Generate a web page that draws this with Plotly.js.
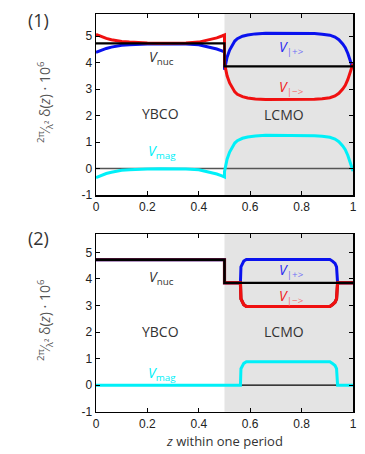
<!DOCTYPE html>
<html>
<head>
<meta charset="utf-8">
<script src="https://cdn.plot.ly/plotly-3.0.1.min.js"></script>
<style>html,body{margin:0;padding:0;background:#fff;}#chart{width:365px;height:454px;}</style>
</head>
<body>
<div id="chart"></div>
<script>
// ---------- Panel (1) data ----------
var zY = [0, 0.02, 0.04, 0.06, 0.08, 0.10, 0.13, 0.16, 0.20, 0.25, 0.30, 0.35, 0.40, 0.44, 0.47, 0.49, 0.5];
var vmag1Y = [-0.34, -0.26, -0.19, -0.14, -0.10, -0.07, -0.05, -0.03, -0.02, -0.01, -0.01, -0.02, -0.05, -0.13, -0.21, -0.28, -0.32];
var vplus1Y = [4.38, 4.46, 4.53, 4.58, 4.62, 4.65, 4.67, 4.69, 4.70, 4.71, 4.71, 4.70, 4.67, 4.59, 4.51, 4.44, 4.40];
var vminus1Y = [5.06, 4.98, 4.91, 4.86, 4.82, 4.79, 4.77, 4.75, 4.74, 4.73, 4.73, 4.74, 4.77, 4.85, 4.93, 5.00, 5.04];

var zL = [0.5, 0.505, 0.51, 0.52, 0.53, 0.54, 0.55, 0.57, 0.59, 0.62, 0.66, 0.70, 0.75, 0.80, 0.85, 0.88, 0.91, 0.93, 0.945, 0.96, 0.97, 0.98, 0.99, 0.995, 1.0];
var vmag1L = [-0.12, 0.10, 0.35, 0.62, 0.82, 0.96, 1.05, 1.14, 1.19, 1.23, 1.25, 1.25, 1.25, 1.25, 1.24, 1.22, 1.18, 1.11, 1.01, 0.85, 0.71, 0.49, 0.20, 0.00, -0.10];
var vplus1L = [3.73, 3.95, 4.20, 4.47, 4.67, 4.81, 4.90, 4.99, 5.04, 5.08, 5.10, 5.10, 5.10, 5.10, 5.09, 5.07, 5.03, 4.96, 4.86, 4.70, 4.56, 4.34, 4.05, 3.85, 3.75];
var vminus1L = [3.97, 3.75, 3.50, 3.23, 3.03, 2.89, 2.80, 2.71, 2.66, 2.62, 2.60, 2.60, 2.60, 2.60, 2.61, 2.63, 2.67, 2.74, 2.84, 3.00, 3.14, 3.36, 3.65, 3.85, 3.95];

var zNuc = [0, 0.5, 0.5, 1];
var vNuc = [4.72, 4.72, 3.85, 3.85];
var zZero = [0, 1];
var vZero = [0, 0];

// ---------- Panel (2) data ----------
var z2 = [0, 0.5, 0.5, 0.562, 0.564, 0.570, 0.575, 0.585, 0.910, 0.920, 0.930, 0.936, 0.940, 1];
var vplus2 = [4.72, 4.72, 3.85, 3.85, 4.45, 4.58, 4.67, 4.73, 4.73, 4.67, 4.58, 4.45, 3.85, 3.85];
var vminus2 = [4.72, 4.72, 3.85, 3.85, 3.25, 3.12, 3.03, 2.96, 2.96, 3.03, 3.12, 3.25, 3.85, 3.85];
var zMag2 = [0, 0.562, 0.564, 0.570, 0.575, 0.585, 0.910, 0.920, 0.930, 0.936, 0.940, 1];
var vmag2 = [0, 0, 0.62, 0.74, 0.82, 0.88, 0.88, 0.82, 0.74, 0.62, 0, 0];

// ---------- ticks ----------
var xTicks = [0, 0.2, 0.4, 0.6, 0.8, 1];
var xTickText = ['0', '0.2', '0.4', '0.6', '0.8', '1'];
var yTicks = [-1, 0, 1, 2, 3, 4, 5];
var yTickText = ['-1', '0', '1', '2', '3', '4', '5'];

var BLUE = '#0a12ee', RED = '#f01010', CYAN = '#00f0f8';

function ln(x, y, color, width, xa, ya) {
  return {x: x, y: y, type: 'scatter', mode: 'lines', xaxis: xa, yaxis: ya,
          line: {color: color, width: width}, hoverinfo: 'skip', showlegend: false};
}

var traces = [
  ln(zZero, vZero, '#555555', 1.6, 'x', 'y'),
  ln(zY.concat(zL), vplus1Y.concat(vplus1L), BLUE, 3, 'x', 'y'),
  ln(zY.concat(zL), vminus1Y.concat(vminus1L), RED, 3, 'x', 'y'),
  ln(zY.concat(zL), vmag1Y.concat(vmag1L), CYAN, 3, 'x', 'y'),
  ln(zNuc, vNuc, '#000000', 2.2, 'x', 'y'),

  ln(z2, vplus2, BLUE, 3, 'x2', 'y2'),
  ln(z2, vminus2, '#8a1020', 3.2, 'x2', 'y2'),
  ln(z2.slice(2), vminus2.slice(2), RED, 3, 'x2', 'y2'),
  ln(zZero, vZero, '#000000', 1.2, 'x2', 'y2'),
  ln(zMag2, vmag2, CYAN, 3, 'x2', 'y2'),
  ln(zNuc, vNuc, '#000000', 2.4, 'x2', 'y2')
];

var W = 365, H = 454;
var xDom = [96 / W, 353 / W];
var y1Dom = [1 - 195 / H, 1 - 14 / H];
var y2Dom = [1 - 411.7 / H, 1 - 234 / H];

var TICKFONT = {family: 'Liberation Sans, Arial, sans-serif', size: 12, color: '#222'};
function xax(anchor) {
  return {domain: xDom, range: [0, 1], anchor: anchor, tickvals: xTicks, ticktext: xTickText,
          ticks: 'inside', ticklen: 4, tickwidth: 1, tickcolor: '#000', mirror: 'allticks',
          showline: true, linecolor: '#000', linewidth: 1.5, showgrid: false, zeroline: false,
          tickfont: TICKFONT, fixedrange: true};
}
function yax(dom, top, anchor) {
  return {domain: dom, range: [-1, top], anchor: anchor, tickvals: yTicks, ticktext: yTickText,
          ticks: 'inside', ticklen: 4, tickwidth: 1, tickcolor: '#000', mirror: 'allticks',
          showline: true, linecolor: '#000', linewidth: 1.5, showgrid: false, zeroline: false,
          tickfont: TICKFONT, fixedrange: true};
}

var TF = 'Open Sans, sans-serif';
function ann(text, x, y, xr, yr, size, color, extra) {
  var a = {text: text, x: x, y: y, xref: xr, yref: yr, showarrow: false,
           font: {family: TF, size: size, color: color}, xanchor: 'center', yanchor: 'middle'};
  if (extra) for (var k in extra) a[k] = extra[k];
  return a;
}
var ytitle = '<sup>2π</sup>⁄<sub>λ²</sub> δ(<i>z</i>) · 10<sup>6</sup>';
var vplusTxt = '<i>V</i><sub><span style="color:#6f6ff5">|+></span></sub>';
var vminusTxt = '<i>V</i><sub><span style="color:#f57070">|−></span></sub>';
var vnucTxt = '<i>V</i><sub>nuc</sub>';
var vmagTxt = '<i>V</i><sub>mag</sub>';

var annotations = [
  ann('(1)', 38 / W, 1 - 20 / H, 'paper', 'paper', 18, '#333'),
  ann('(2)', 38 / W, 1 - 238 / H, 'paper', 'paper', 18, '#333'),
  ann(ytitle, 45 / W, 1 - 102 / H, 'paper', 'paper', 14, '#555', {textangle: -90}),
  ann(ytitle, 45 / W, 1 - 320 / H, 'paper', 'paper', 14, '#555', {textangle: -90}),
  ann('<i>z</i> within one period', 224 / W, 1 - 441 / H, 'paper', 'paper', 13, '#333'),

  ann(vnucTxt, 0.255, 4.2, 'x', 'y', 14, '#333'),
  ann('YBCO', 0.25, 2.08, 'x', 'y', 14, '#333'),
  ann(vmagTxt, 0.255, 0.63, 'x', 'y', 14, CYAN),
  ann('LCMO', 0.73, 2.05, 'x', 'y', 14, '#333'),
  ann(vplusTxt, 0.76, 4.55, 'x', 'y', 14, '#2a2af0'),
  ann(vminusTxt, 0.76, 3.04, 'x', 'y', 14, '#f02020'),

  ann(vnucTxt, 0.255, 4.07, 'x2', 'y2', 14, '#333'),
  ann('YBCO', 0.25, 2.02, 'x2', 'y2', 14, '#333'),
  ann(vmagTxt, 0.255, 0.45, 'x2', 'y2', 14, CYAN),
  ann('LCMO', 0.73, 2.03, 'x2', 'y2', 14, '#333'),
  ann(vplusTxt, 0.76, 4.33, 'x2', 'y2', 14, '#2a2af0'),
  ann(vminusTxt, 0.76, 3.35, 'x2', 'y2', 14, '#f02020')
];

var shapes = [
  {type: 'rect', xref: 'x', yref: 'y domain', x0: 0.5, x1: 1, y0: 0, y1: 1, fillcolor: '#e4e4e4', line: {width: 0}, layer: 'below'},
  {type: 'rect', xref: 'x2', yref: 'y2 domain', x0: 0.5, x1: 1, y0: 0, y1: 1, fillcolor: '#e4e4e4', line: {width: 0}, layer: 'below'}
];

var layout = {
  width: W, height: H, margin: {l: 0, r: 0, t: 0, b: 0},
  paper_bgcolor: '#fff', plot_bgcolor: 'rgba(0,0,0,0)', showlegend: false,
  xaxis: xax('y'), yaxis: yax(y1Dom, 5.83, 'x'),
  xaxis2: xax('y2'), yaxis2: yax(y2Dom, 5.69, 'x2'),
  annotations: annotations, shapes: shapes
};

Plotly.newPlot('chart', traces, layout, {staticPlot: true, displayModeBar: false});
</script>
</body>
</html>
